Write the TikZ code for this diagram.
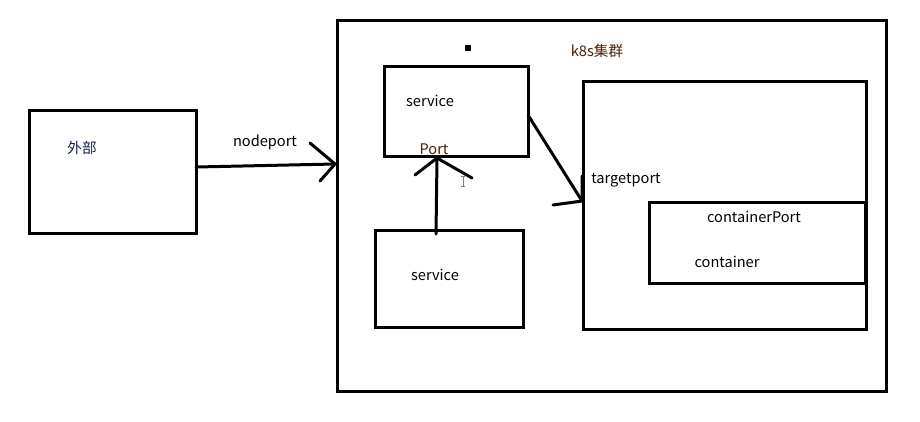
\documentclass[tikz,border=0pt]{standalone}
\usepackage{fontspec}
\setmainfont{Noto Sans CJK SC}
\begin{document}
\begin{tikzpicture}[x=1pt,y=-1pt,
  box/.style={draw=black,line width=3pt,line join=miter},
  pen/.style={draw=black,line width=3pt,line cap=round},
  lbl/.style={inner sep=0pt,font=\fontsize{14.6}{17}\selectfont,text=black,yshift=-1.5pt},
  brown/.style={text={rgb,255:red,70;green,35;blue,10}},
  navy/.style={text={rgb,255:red,20;green,30;blue,70}}]
\useasboundingbox (0,0) rectangle (920,421);
% boxes
\draw[box] (29,110) rectangle (196,233);
\draw[box] (337,20) rectangle (886,391);
\draw[box] (384,66) rectangle (528,156);
\draw[box] (375,230) rectangle (523,327);
\draw[box] (583,81) rectangle (866,329);
\draw[box] (649,202) rectangle (865,283);
\fill[black] (465,45) rectangle (471,51);
% labels
\node[lbl,navy] (wb) at (82,146) {外部};
\node[lbl] (np) at (265,141) {nodeport};
\node[lbl] (s1) at (430,99) {service};
\node[lbl,brown] (pt) at (434,148) {Port};
\node[lbl,brown] (k8) at (597,49) {k8s集群};
\node[lbl] (s2) at (435,273) {service};
\node[lbl] (tp) at (626,179) {targetport};
\node[lbl] (cp) at (754,215) {containerPort};
\node[lbl] (ct) at (727,260) {container};
% connectors
\coordinate (a1) at (196,167);
\coordinate (a2) at (335,164);
\draw[pen] (a1) -- (a2);
\draw[pen] (310,143) -- (a2) -- (320,181);
\coordinate (b1) at (436,234);
\coordinate (b2) at (437,158);
\draw[pen] (b1) -- (b2);
\draw[pen] (415,175) -- (b2) -- (472,178);
\coordinate (c1) at (528,115);
\coordinate (c2) at (582,201);
\draw[pen] (c1) -- (c2);
\draw[pen] (553,205) -- (c2) -- (582,176);
% I-beam cursor
\draw[gray,line width=1pt] (463,176) -- (463,186) (461,176) -- (465,176) (461,186) -- (465,186);
\end{tikzpicture}
\end{document}
